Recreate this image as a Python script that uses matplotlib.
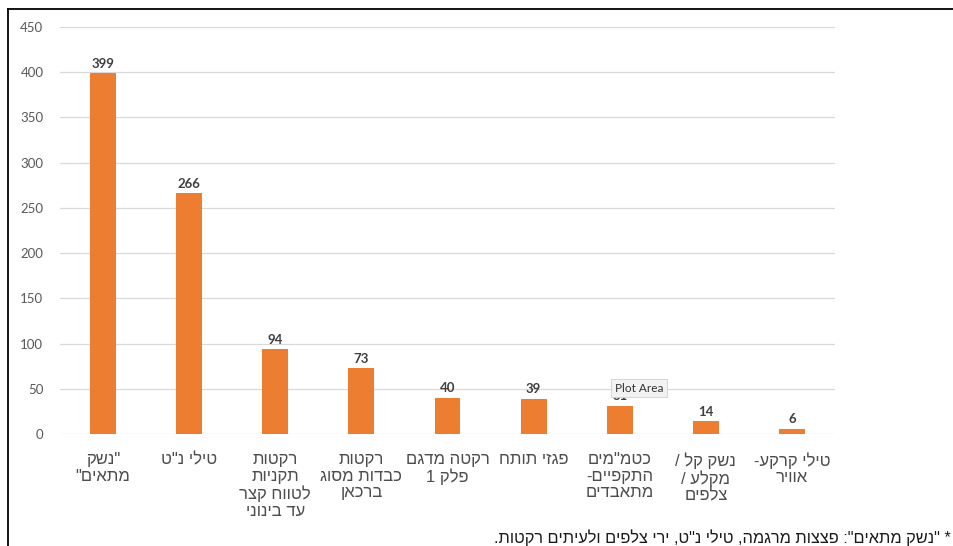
import matplotlib.pyplot as plt
from matplotlib.lines import Line2D

# categories, logical (reading) order, one entry per wrapped line
categories = [
    ['"נשק', 'מתאים"'],
    ['טילי נ"ט'],
    ['רקטות', 'תקניות', 'לטווח קצר', 'עד בינוני'],
    ['רקטות', 'כבדות מסוג', 'ברכאן'],
    ['רקטה מדגם', 'פלק 1'],
    ['פגזי תותח'],
    ['כטמ"מים', 'התקפיים-', 'מתאבדים'],
    ['נשק קל /', 'מקלע /', 'צלפים'],
    ['טילי קרקע-', 'אוויר'],
]
values = [399, 266, 94, 73, 40, 39, 31, 14, 6]
y_ticks = [0, 50, 100, 150, 200, 250, 300, 350, 400, 450]
footnote = '* "נשק מתאים": פצצות מרגמה, טילי נ"ט, ירי צלפים ולעיתים רקטות.'
tooltip = 'Plot Area'


def visual(line):
    # matplotlib has no bidi: right-to-left line -> flip it
    return line[::-1]


orange = '#ED7D31'
grey = '#595959'

fig = plt.figure(figsize=(9.54, 5.46), dpi=100)
ax = fig.add_axes([60 / 954, 112 / 546, 775 / 954, 407 / 546])

x = list(range(len(values)))
bars = ax.bar(x, values, width=0.30, color=orange, zorder=3)

for b, v in zip(bars, values):
    ax.annotate(str(v), (b.get_x() + b.get_width() / 2, v),
                xytext=(0, 2.5), textcoords='offset points',
                ha='center', va='bottom', fontsize=9.5,
                fontweight='bold', color='#404040', family='Lato')

ax.set_xlim(-0.5, len(values) - 0.5)
ax.set_ylim(0, 450)
ax.set_yticks(y_ticks)
ax.set_yticklabels([str(t) for t in y_ticks], family='Lato',
                   fontsize=9.5, color=grey)
ax.set_xticks(x)
ax.set_xticklabels(['\n'.join(visual(l) for l in c) for c in categories],
                   family='Liberation Sans', fontsize=12, color='#4d4d4d',
                   linespacing=1.13, va='top')
ax.tick_params(axis='both', length=0)
ax.tick_params(axis='y', pad=12)
ax.tick_params(axis='x', pad=13)
ax.grid(axis='y', color='#d9d9d9', linewidth=0.9, zorder=0)
for s in ax.spines.values():
    s.set_visible(False)

# border of the pasted chart (top and left only)
fig.add_artist(Line2D([8 / 954, 1], [1 - 9 / 546, 1 - 9 / 546],
                      transform=fig.transFigure, color='black', lw=1.3))
fig.add_artist(Line2D([8 / 954, 8 / 954], [0, 1 - 9 / 546],
                      transform=fig.transFigure, color='black', lw=1.3))

# excel hover tooltip
fig.text(639 / 954, 1 - 388 / 546, tooltip, ha='center', va='center',
         fontsize=8.5, color='#333333', family='Lato', zorder=10,
         bbox=dict(boxstyle='square,pad=0.3', fc='#f2f2f2',
                   ec='#d0d0d0', lw=0.6))

fig.text(951 / 954, 1 - 538 / 546, visual(footnote), ha='right',
         va='center', fontsize=11.8, color='#1a1a1a',
         family='Liberation Sans')

fig.savefig('out.png', dpi=100)
